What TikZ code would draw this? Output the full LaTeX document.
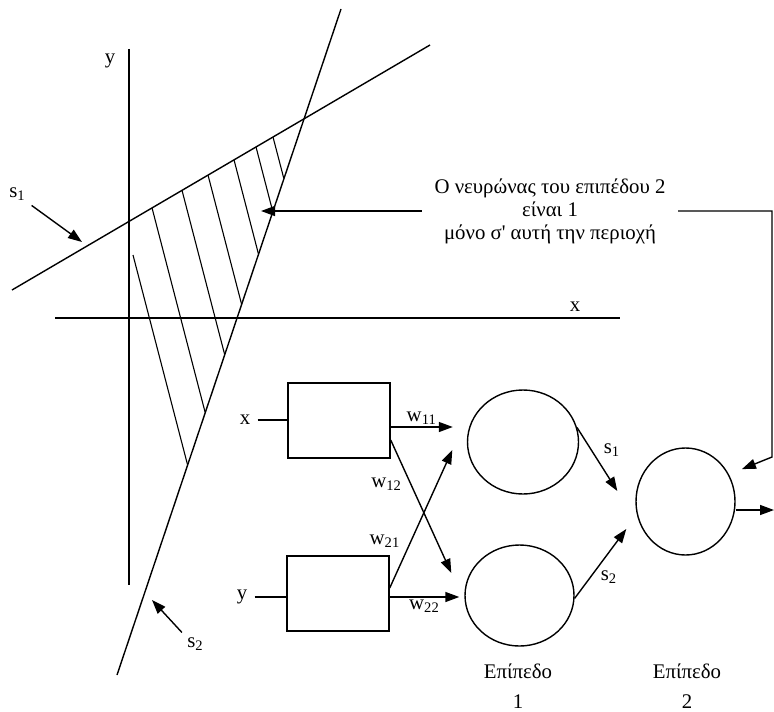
\documentclass[tikz,border=0pt]{standalone}
\usepackage{fontspec}
\setmainfont{Liberation Serif}
\usetikzlibrary{arrows.meta,shapes.geometric}

\begin{document}
\begin{tikzpicture}[x=0.5pt,y=-0.5pt,font=\fontsize{10.4}{11.5}\selectfont,line width=0.7pt,
   arr/.style={-{Triangle[length=7pt,width=5pt]}},
   unit/.style={draw,rectangle,minimum width=51pt,minimum height=37.5pt,inner sep=0pt},
   neuron/.style={draw,ellipse,inner sep=0pt},
   lbl/.style={inner sep=1pt},
   level/.style={align=center,font=\fontsize{10.4}{15}\selectfont}]
\useasboundingbox (0,0) rectangle (774,711);
% axes and the two separating lines
\draw (129,49) -- (129,585);
\draw (55,318) -- (620,318);
\draw (12,290) -- (430,45);
\draw (117,675) -- (341,9);
\node (axy) at (110,61) {y};
\node (axx) at (575,307) {x};
% hatching between s1 and s2
\foreach \xa/\ya/\xb/\yb in {133/255/187.5/464.6, 152/207.8/205.1/412.2, 182/190.3/224.6/354.3,
   208/175/241.5/303.9, 234/159.8/258.4/253.8, 256/146.9/272.7/211.3, 273/137/283.8/178.4}
   \draw[line width=0.55pt] (\xa,\ya) -- (\xb,\yb);
\node[lbl] (ls1) at (17.5,194) {s\textsubscript{1}};
\coordinate (s1p) at (82,242);
\draw[arr,shorten <=2pt] (ls1.south east) -- (s1p);
\node[lbl] (ls2) at (195.5,644.5) {s\textsubscript{2}};
\coordinate (s2p) at (152,600);
\draw[arr,shorten <=2pt] (ls2.north west) -- (s2p);
% note and its two arrows
\node[align=center,inner xsep=6pt] (note) at (550,211)
   {Ο νευρώνας του επιπέδου 2\\είναι 1\\μόνο σ\textquotesingle{} αυτή την περιοχή};
\coordinate (region) at (261,211);
\draw[arr] (note.west) -- (region);
% network
\node[unit] (bx) at (339,420.5) {};
\node[unit] (by) at (338,593.5) {};
\node (inx) at (245,420) {x};
\node (iny) at (242,597) {y};
\draw (inx) -- (inx -| bx.west);
\draw (iny) -- (iny -| by.west);
\node[neuron,minimum width=55.5pt,minimum height=52pt] (na) at (523,442) {};
\node[neuron,minimum width=54.5pt,minimum height=50.5pt] (nb) at (519.5,595.5) {};
\node[neuron,minimum width=49.5pt,minimum height=53.5pt] (nc) at (685.5,501.5) {};
\draw[arr] ([yshift=-3.25pt]bx.east) -- node[above,lbl]{w\textsubscript{11}} ([xshift=-7pt,yshift=7.5pt]na.west);
\draw[arr] ([yshift=-9.75pt]bx.east) -- node[pos=0.33,left=3pt,lbl]{w\textsubscript{12}} ([xshift=-6.5pt,yshift=11.25pt]nb.west);
\draw[arr] ([yshift=2.75pt]by.east) -- node[pos=0.34,left=4pt,lbl]{w\textsubscript{21}} ([xshift=-7.25pt,yshift=-4pt]na.west);
\draw[arr] ([yshift=-1.75pt]by.east) -- node[below,lbl]{w\textsubscript{22}} ([xshift=-2.5pt,yshift=-0.75pt]nb.west);
\draw[arr] (na.15) -- node[pos=0.35,right=5pt,lbl]{s\textsubscript{1}} ([xshift=-9pt,yshift=5.25pt]nc.west);
\draw[arr] (nb.-3) -- node[pos=0.3,right=4pt,lbl]{s\textsubscript{2}} ([xshift=-4.5pt,yshift=-13.75pt]nc.west);
\coordinate (outp) at (774,510);
\draw[arr] (nc.east |- outp) -- (outp);
\coordinate (bend) at (772,457);
\draw[arr,shorten >=7pt] (note.east) -| (bend) -- (nc.32);
% levels
\node[level] (lev1) at (518,686) {Επίπεδο\\1};
\node[level] (lev2) at (687,686) {Επίπεδο\\2};
\end{tikzpicture}
\end{document}
